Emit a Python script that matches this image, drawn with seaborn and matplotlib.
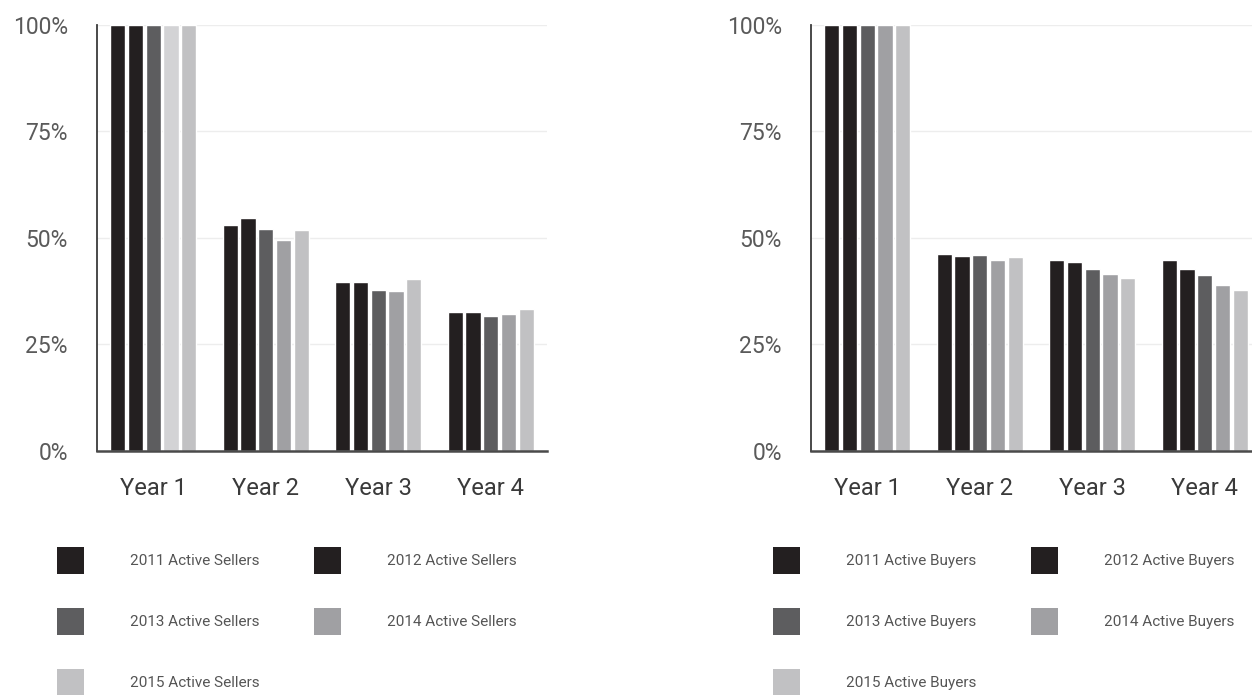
import matplotlib
matplotlib.use("Agg")
import matplotlib.pyplot as plt
import matplotlib.patches as mpatches
import seaborn as sns
import pandas as pd

# Retention of each yearly cohort, as a share of its first-year size (%)
periods = ["Year 1", "Year 2", "Year 3", "Year 4"]
cohorts = ["2011", "2012", "2013", "2014", "2015"]

sellers_2011 = [100, 52.9, 39.6, 32.6]
sellers_2012 = [100, 54.6, 39.7, 32.6]
sellers_2013 = [100, 52.0, 37.7, 31.7]
sellers_2014 = [100, 49.4, 37.4, 32.1]
sellers_2015 = [100, 51.9, 40.3, 33.3]

buyers_2011 = [100, 46.3, 44.9, 44.9]
buyers_2012 = [100, 45.7, 44.2, 42.7]
buyers_2013 = [100, 46.0, 42.7, 41.3]
buyers_2014 = [100, 44.8, 41.6, 38.9]
buyers_2015 = [100, 45.4, 40.6, 37.7]

y_ticks = [0, 25, 50, 75, 100]
y_tick_labels = ["0%", "25%", "50%", "75%", "100%"]

cohort_colors = ["#231f20", "#231f20", "#5d5d5f", "#a0a0a3", "#c1c1c3"]

sns.set_theme(style="white")
plt.rcParams["font.family"] = ["Roboto", "DejaVu Sans"]

fig = plt.figure(figsize=(12.52, 6.95), dpi=100)
W, H = 1252, 695

LEGEND_FS = 11
SWATCH_PT = 19.4  # legend swatch edge, in points
# matplotlib's handle height is fs*hh - 0.35*fs*(hh-0.7); solve for a square swatch
HANDLE_H = (SWATCH_PT / LEGEND_FS - 0.245) / 0.65
HANDLE_L = SWATCH_PT / LEGEND_FS


def long_frame(series, noun):
    rows = []
    for cohort, values in zip(cohorts, series):
        for period, v in zip(periods, values):
            rows.append({"period": period, "cohort": f"{cohort} Active {noun}", "value": v})
    return pd.DataFrame(rows)


def draw_panel(left_px, series, noun, legend_left_px):
    ax = fig.add_axes([left_px / W, (H - 451) / H, 450 / W, 426.5 / H])
    df = long_frame(series, noun)
    labels = [f"{c} Active {noun}" for c in cohorts]
    sns.barplot(data=df, x="period", y="value", hue="cohort", hue_order=labels,
                order=periods, palette=cohort_colors, saturation=1, width=0.79,
                gap=0.15, errorbar=None, legend=False, ax=ax, zorder=3)
    ax.set_ylim(0, 100)
    ax.set_xlim(-0.5, 3.5)
    ax.set_yticks(y_ticks)
    ax.set_yticklabels(y_tick_labels)
    ax.set_xlabel("")
    ax.set_ylabel("")
    ax.yaxis.grid(True, color="#ededed", linewidth=1.0, zorder=0)
    ax.set_axisbelow(True)
    for side in ("top", "right"):
        ax.spines[side].set_visible(False)
    ax.spines["left"].set_color("#3a3a3a")
    ax.spines["left"].set_linewidth(1.3)
    ax.spines["bottom"].set_color("#4a4a4a")
    ax.spines["bottom"].set_linewidth(1.8)
    ax.spines["bottom"].set_zorder(5)
    ax.tick_params(axis="y", length=0, pad=21, labelsize=16.5, labelcolor="#5a5a5a")
    ax.tick_params(axis="x", length=0, pad=19, labelsize=17, labelcolor="#3a3a3a")

    handles = [mpatches.Patch(facecolor=c, edgecolor="none", label=l)
               for l, c in zip(labels, cohort_colors)]
    order = [0, 2, 4, 1, 3]
    leg = ax.legend([handles[i] for i in order], [labels[i] for i in order],
                    ncol=2, loc="upper left",
                    bbox_to_anchor=(legend_left_px / W, 1 - 547 / H),
                    bbox_transform=fig.transFigure, frameon=False,
                    fontsize=LEGEND_FS, handlelength=HANDLE_L, handleheight=HANDLE_H,
                    handletextpad=3.0, columnspacing=3.6, labelspacing=2.23,
                    borderpad=0, borderaxespad=0)
    for t in leg.get_texts():
        t.set_color("#555555")
    return ax


ax_s = draw_panel(97, [sellers_2011, sellers_2012, sellers_2013, sellers_2014, sellers_2015],
                  "Sellers", 57)
ax_b = draw_panel(811, [buyers_2011, buyers_2012, buyers_2013, buyers_2014, buyers_2015],
                  "Buyers", 773)

# the highlighted first-year 2014 seller bar is shown in a paler tone
ax_s.containers[3][0].set_facecolor("#d3d3d5")

fig.savefig("out.png", dpi=100)
